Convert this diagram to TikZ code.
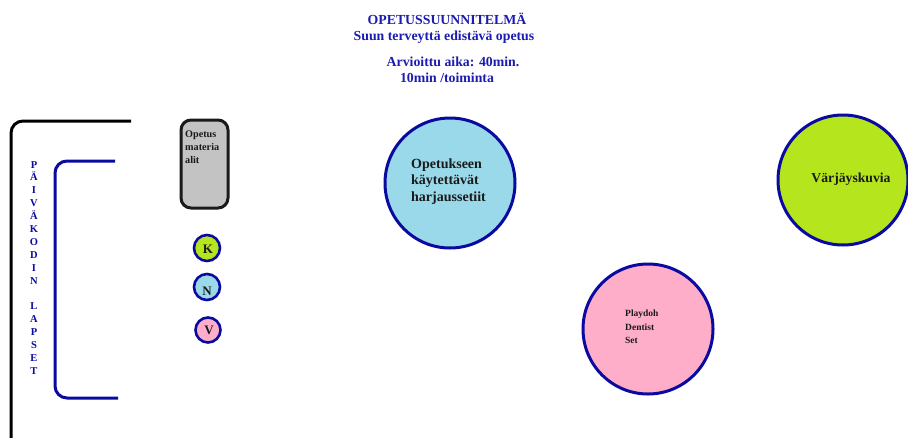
\documentclass[tikz,border=0pt]{standalone}
\usepackage{fontspec}
\setmainfont{Liberation Serif}
\definecolor{navy}{HTML}{0A0AA0}
\definecolor{titleblue}{HTML}{1C1CB0}
\definecolor{lime}{HTML}{B5E61D}
\definecolor{skyblue}{HTML}{99D9EA}
\definecolor{rose}{HTML}{FFAEC9}
\definecolor{boxgrey}{HTML}{C3C3C3}
\definecolor{ink}{HTML}{1A1A1A}
\tikzset{
  title/.style={text=titleblue, font=\bfseries\fontsize{13.8}{16}\selectfont, inner sep=0pt},
  station/.style={circle, draw=navy, line width=3pt, minimum size=130pt, inner sep=0pt},
  stationtext/.style={text=ink, align=left, inner sep=0pt},
  badge/.style={circle, draw=navy, line width=2.6pt, minimum size=26pt, inner sep=0pt},
  badgetext/.style={text=ink, font=\bfseries\fontsize{13}{13}\selectfont, inner sep=0pt},
  bracket/.style={line width=3pt, rounded corners=12pt},
}
\begin{document}
\begin{tikzpicture}[x=1pt, y=-1pt]
\useasboundingbox (0,0) rectangle (908,437);
\fill[white] (0,0) rectangle (908,437);

% heading
\node[title] (head1) at (447,19) {OPETUSSUUNNITELMÄ};
\node[title] (head2) at (444,37) {Suun terveyttä edistävä opetus};
\node[title] (time1) at (453,62) {Arvioittu aika: 40min.};
\node[title] (time2) at (447,78) {10min /toiminta};

% outer and inner group brackets
\coordinate (outerTop) at (131,121);
\coordinate (outerEnd) at (11,445);
\draw[bracket, black] (outerTop) -- (11,121) -- (outerEnd);
\coordinate (innerTop) at (115,161);
\coordinate (innerEnd) at (118,398);
\draw[bracket, navy] (innerTop) -- (55,161) -- (55,398) -- (innerEnd);

% vertical label, one letter per line
\node[text=navy, font=\bfseries\fontsize{10.5}{12.9}\selectfont, align=center, inner sep=0pt, anchor=north]
  (kids) at (34,161) {P\\Ä\\I\\V\\Ä\\K\\O\\D\\I\\N\\[12.9pt]L\\A\\P\\S\\E\\T};

% teaching materials box
\node[draw=ink, fill=boxgrey, line width=3pt, rounded corners=10pt,
      minimum width=47pt, minimum height=88pt, inner sep=0pt] (material) at (204.5,164) {};
\node[anchor=north west, align=left, text=ink, inner sep=0pt,
      font=\bfseries\fontsize{10.2}{13}\selectfont] (materialText) at (185,131) {Opetus\\materia\\alit};

% small station markers
\node[badge, fill=lime] (k) at (207,248) {};
\node[badgetext] (kText) at (208,249) {K};
\node[badge, fill=skyblue] (n) at (207,287) {};
\node[badgetext] (nText) at (207,291) {N};
\node[badge, fill=rose, minimum size=25pt] (v) at (208,330) {};
\node[badgetext] (vText) at (209,330) {V};

% stations
\node[station, fill=skyblue] (brush) at (450,183) {};
\node[stationtext, anchor=north west, font=\bfseries\fontsize{14}{16.3}\selectfont]
  (brushText) at (411,158.5) {Opetukseen\\käytettävät\\harjaussetiit};
\node[station, fill=rose] (playdoh) at (648,329) {};
\node[stationtext, anchor=north west, font=\bfseries\fontsize{9.5}{13.5}\selectfont]
  (playdohText) at (625,310) {Playdoh\\Dentist\\Set};
\node[station, fill=lime] (color) at (843,180) {};
\node[stationtext, font=\bfseries\fontsize{13.7}{16}\selectfont] (colorText) at (851,179) {Värjäyskuvia};
\end{tikzpicture}
\end{document}
